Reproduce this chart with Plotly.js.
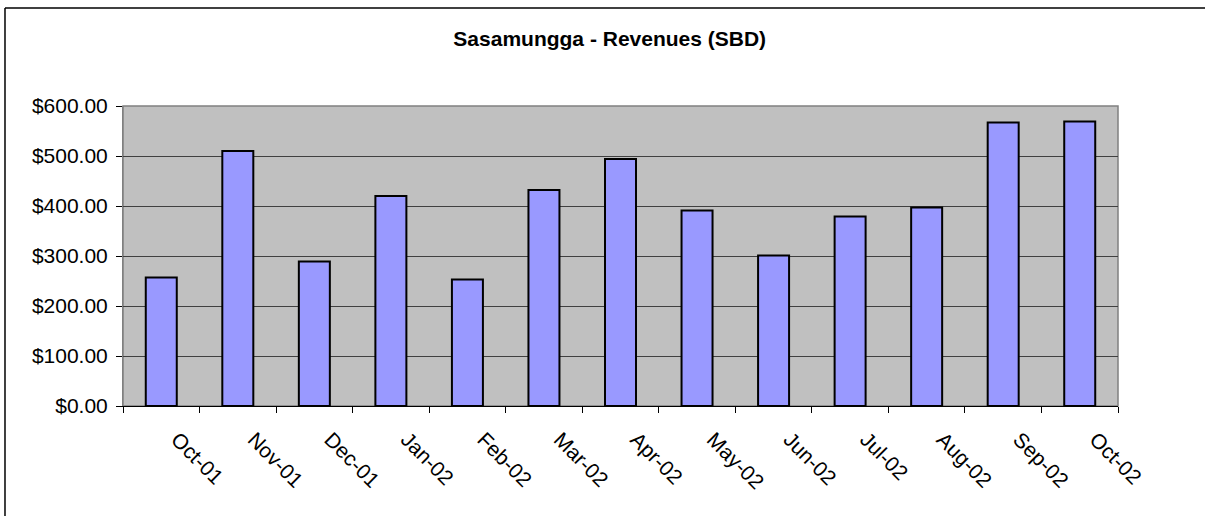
<!DOCTYPE html>
<html>
<head>
<meta charset="utf-8">
<script src="https://cdn.plot.ly/plotly-3.0.1.min.js"></script>
<style>
  body { margin: 0; background: #fff; }
  #chart { width: 1205px; height: 516px; }
</style>
</head>
<body>
<div id="chart"></div>
<script>
// months on the x axis
const months = ["Oct-01", "Nov-01", "Dec-01", "Jan-02", "Feb-02", "Mar-02", "Apr-02",
                "May-02", "Jun-02", "Jul-02", "Aug-02", "Sep-02", "Oct-02"];
// revenues in SBD
const revenues = [257, 510, 289, 420, 253, 432, 494, 391, 301, 379, 397, 567, 569];

const yTicks = [0, 100, 200, 300, 400, 500, 600];

const data = [{
  x: months,
  y: revenues,
  type: "bar",
  marker: {color: "#9999FF", line: {color: "#000000", width: 2}},
  hoverinfo: "none"
}];

const font = "Arial, 'Liberation Sans', sans-serif";

const layout = {
  width: 1205,
  height: 516,
  margin: {l: 123, r: 87, t: 106, b: 110},
  paper_bgcolor: "#FFFFFF",
  plot_bgcolor: "#C0C0C0",
  showlegend: false,
  bargap: 0.595,
  font: {family: font, size: 21, color: "#000"},
  title: {
    text: "<b>Sasamungga - Revenues (SBD)</b>",
    font: {family: font, size: 21, color: "#000"},
    x: 0.506, xanchor: "center",
    y: 0.925, yanchor: "middle"
  },
  xaxis: {
    type: "category",
    tickson: "boundaries",
    ticks: "outside",
    ticklen: 6,
    tickcolor: "#000",
    tickangle: 45,
    ticklabelstandoff: 12,
    ticklabelshift: 16,
    showline: true,
    linecolor: "#000",
    linewidth: 1,
    showgrid: false,
    zeroline: false,
    tickfont: {family: font, size: 21, color: "#000"}
  },
  yaxis: {
    range: [0, 600],
    tickvals: yTicks,
    tickformat: "$.2f",
    ticks: "outside",
    ticklen: 6,
    tickcolor: "#000",
    ticklabelstandoff: 4,
    showline: true,
    linecolor: "#808080",
    linewidth: 1,
    showgrid: true,
    gridcolor: "#404040",
    gridwidth: 1,
    zeroline: false,
    tickfont: {family: font, size: 21, color: "#000"}
  },
  shapes: [
    // gray plot-area border (top and right)
    {type: "rect", xref: "paper", yref: "paper", x0: 0, x1: 1, y0: 0, y1: 1,
     line: {color: "#808080", width: 1.5}, layer: "below"},
    // outer chart frame: only its top and left edges are in the picture
    {type: "line", xref: "paper", yref: "paper",
     x0: -0.1186, x1: 1.2, y0: 1.3267, y1: 1.3267,
     line: {color: "#000", width: 1.5}},
    {type: "line", xref: "paper", yref: "paper",
     x0: -0.1186, x1: -0.1186, y0: -0.5, y1: 1.3267,
     line: {color: "#000", width: 1.5}}
  ]
};

Plotly.newPlot("chart", data, layout, {displayModeBar: false, staticPlot: true});
</script>
</body>
</html>
